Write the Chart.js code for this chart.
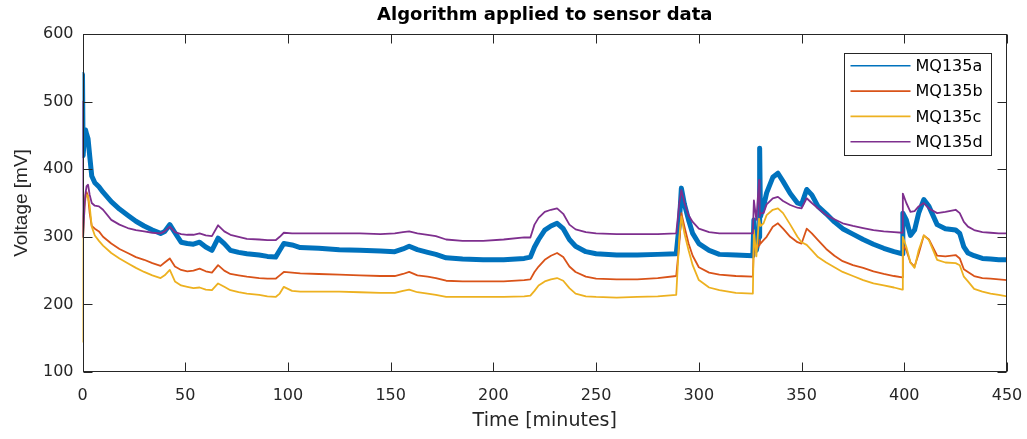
<!DOCTYPE html>
<html>
<head>
<meta charset="utf-8">
<script src="https://cdn.jsdelivr.net/npm/chart.js@4.4.1/dist/chart.umd.min.js"></script>
<style>
  html, body { margin: 0; padding: 0; background: #fff; }
  canvas { display: block; }
</style>
</head>
<body>
<canvas id="c" width="1027" height="439"></canvas>
<script>
// Sample times (minutes)
const timeMin = [0, 0.3, 1, 1.5, 2, 2.7, 3.5, 4.5, 6, 8, 10, 14, 18, 22, 26, 30, 34, 38, 40, 42.5,
  45, 48, 51, 54, 57, 60, 63, 66, 69, 72, 76, 80, 86, 90, 94, 96, 98, 102, 106, 115,
  125, 135, 145, 152, 156, 159, 163, 168, 172, 177, 185, 195, 205, 215, 218, 220, 222, 225, 228, 231,
  234, 237, 240, 245, 250, 260, 270, 280, 289, 290.5, 291.5, 293, 295, 297, 300, 305, 310, 318, 326.3, 326.8,
  328, 329.3, 329.6, 330, 331.5, 333, 336, 338.5, 341, 344.5, 348, 350, 352.5, 355, 358, 362, 366, 370, 375, 380,
  385, 390, 395, 399, 399.3, 401, 403, 405, 407, 409.5, 412, 416, 420, 425, 427, 429, 431, 434, 438, 442,
  446, 450];

// Sensor voltages (mV)
const mq135a = [540, 420, 450, 458, 452, 445, 420, 390, 380, 374, 366, 352, 341, 332, 323, 316, 310, 305, 308, 318,
  306, 292, 290, 289, 292, 285, 280, 298, 290, 280, 277, 275, 273, 271, 270, 280, 290, 288, 284, 283,
  281, 280, 279, 278, 282, 286, 281, 277, 274, 269, 267, 266, 266, 268, 270, 285, 296, 310, 316, 320,
  312, 296, 286, 278, 275, 273, 273, 274, 275, 320, 372, 348, 325, 305, 290, 280, 274, 273, 272, 325,
  280, 300, 431, 330, 345, 365, 388, 394, 382, 364, 350, 348, 370, 362, 345, 334, 322, 312, 304, 296,
  289, 283, 278, 275, 335, 325, 302, 310, 335, 355, 345, 318, 312, 310, 305, 285, 276, 272, 268, 267,
  266, 266];

const mq135b = [300, 330, 350, 362, 366, 360, 335, 316, 312, 308, 300, 290, 282, 276, 270, 266, 261, 257, 262, 268,
  256, 251, 249, 250, 253, 249, 247, 258, 250, 245, 243, 241, 239, 238, 238, 243, 248, 247, 246, 245,
  244, 243, 242, 242, 245, 248, 243, 241, 239, 235, 234, 234, 234, 236, 237, 248, 256, 266, 272, 276,
  270, 256, 248, 241, 238, 237, 237, 239, 242, 290, 335, 315, 290, 272, 255, 247, 244, 242, 241, 290,
  281, 288, 295, 290, 295, 300, 315, 320, 312, 300, 292, 290, 312, 305, 295, 282, 272, 264, 258, 254,
  249, 245, 242, 240, 288, 280, 262, 256, 275, 302, 296, 272, 271, 273, 268, 252, 248, 242, 239, 238,
  237, 236];

const mq135c = [145, 300, 345, 358, 362, 360, 345, 315, 302, 294, 287, 276, 268, 261, 254, 248, 243, 239, 243, 251,
  234, 228, 226, 224, 225, 222, 221, 231, 226, 221, 218, 216, 214, 212, 211, 216, 226, 220, 219, 219,
  219, 218, 217, 217, 220, 222, 218, 216, 214, 211, 211, 211, 211, 212, 213, 220, 228, 234, 237, 239,
  235, 224, 216, 212, 211, 210, 211, 212, 214, 300, 330, 305, 280, 258, 236, 225, 221, 217, 216, 310,
  271, 327, 327, 316, 320, 332, 340, 342, 335, 318, 300, 292, 288, 280, 270, 262, 255, 248, 242, 236,
  231, 228, 225, 222, 300, 285, 262, 254, 280, 302, 295, 266, 262, 261, 258, 241, 234, 223, 219, 216,
  214, 212];

const mq135d = [500, 300, 345, 365, 375, 377, 362, 350, 346, 345, 340, 325, 318, 313, 310, 308, 306, 305, 308, 315,
  307, 304, 303, 303, 305, 302, 301, 317, 308, 303, 300, 297, 296, 295, 295, 300, 306, 305, 305, 305,
  305, 305, 304, 305, 307, 308, 305, 303, 301, 296, 294, 294, 296, 299, 299, 318, 328, 337, 340, 342,
  334, 318, 311, 307, 305, 304, 304, 304, 305, 350, 369, 350, 332, 322, 312, 307, 305, 305, 305, 354,
  325, 384, 330, 335, 335, 348, 357, 359, 353, 347, 343, 342, 357, 350, 342, 332, 326, 320, 316, 313,
  310, 308, 307, 306, 364, 350, 337, 338, 345, 350, 342, 335, 337, 340, 335, 322, 315, 310, 307, 306,
  305, 305];

const seriesNames = ['MQ135a', 'MQ135b', 'MQ135c', 'MQ135d'];
const seriesValues = [mq135a, mq135b, mq135c, mq135d];
const seriesColors = ['#0072BD', '#D95319', '#EDB120', '#7E2F8E'];
const seriesWidths = [5, 1.8, 1.8, 1.8];

const xTicks = [0, 50, 100, 150, 200, 250, 300, 350, 400, 450];
const yTicks = [100, 200, 300, 400, 500, 600];

const axisColor = '#262626';
const tickFont = { family: 'DejaVu Sans', size: 16 };

// Axes box with inward tick marks on all four sides, plus the boxed legend
const boxedAxes = {
  id: 'boxedAxes',
  afterDatasetsDraw(chart) {
    const { ctx, chartArea: a, scales: { x, y } } = chart;
    ctx.save();
    ctx.strokeStyle = axisColor;
    ctx.lineWidth = 1;
    const L = Math.round(a.left) + 0.5, R = Math.round(a.right) - 0.5;
    const T = Math.round(a.top) + 0.5, B = Math.round(a.bottom) - 0.5;
    ctx.strokeRect(L, T, R - L, B - T);
    const len = 9;
    ctx.beginPath();
    xTicks.forEach(v => {
      const px = Math.round(x.getPixelForValue(v)) + 0.5;
      ctx.moveTo(px, B); ctx.lineTo(px, B - len);
      ctx.moveTo(px, T); ctx.lineTo(px, T + len);
    });
    yTicks.forEach(v => {
      const py = Math.round(y.getPixelForValue(v)) + 0.5;
      ctx.moveTo(L, py); ctx.lineTo(L + len, py);
      ctx.moveTo(R, py); ctx.lineTo(R - len, py);
    });
    ctx.stroke();

    // legend
    const boxW = 147, boxH = 102;
    const bx = Math.round(a.right - 16 - boxW) + 0.5;
    const by = Math.round(a.top + 19) + 0.5;
    ctx.fillStyle = '#fff';
    ctx.fillRect(bx, by, boxW, boxH);
    ctx.strokeStyle = axisColor;
    ctx.strokeRect(bx, by, boxW, boxH);
    ctx.font = '16px "DejaVu Sans"';
    ctx.textBaseline = 'middle';
    ctx.textAlign = 'left';
    chart.data.datasets.forEach((ds, i) => {
      const ry = by + 12.3 + i * 25.3;
      ctx.strokeStyle = ds.borderColor;
      ctx.lineWidth = 1.6;
      ctx.beginPath();
      ctx.moveTo(bx + 6, ry); ctx.lineTo(bx + 66, ry);
      ctx.stroke();
      ctx.fillStyle = '#000';
      ctx.fillText(ds.label, bx + 71, ry + 1);
    });
    ctx.restore();
  }
};

const datasets = seriesNames.map((name, k) => ({
  label: name,
  data: timeMin.map((t, i) => ({ x: t, y: seriesValues[k][i] })),
  borderColor: seriesColors[k],
  backgroundColor: seriesColors[k],
  borderWidth: seriesWidths[k],
  borderJoinStyle: 'round',
  borderCapStyle: 'round',
  pointRadius: 0,
  tension: 0,
  fill: false,
  clip: 0,
  order: seriesNames.length - k
}));

new Chart(document.getElementById('c'), {
  type: 'line',
  data: { datasets },
  plugins: [boxedAxes],
  options: {
    responsive: false,
    animation: false,
    devicePixelRatio: 1,
    layout: { padding: { left: 0, right: 20, top: 0, bottom: 0 } },
    plugins: {
      legend: { display: false },
      tooltip: { enabled: false },
      title: {
        display: true,
        fullSize: false,
        text: 'Algorithm applied to sensor data',
        color: '#000',
        font: { family: 'DejaVu Sans', size: 18, weight: 'bold' },
        padding: { top: 5, bottom: 7.4 }
      }
    },
    scales: {
      x: {
        type: 'linear',
        min: 0, max: 450,
        afterBuildTicks: s => { s.ticks = xTicks.map(v => ({ value: v })); },
        afterFit: s => { s.height = 67; s.paddingLeft = 0; s.paddingRight = 0; },
        grid: { display: false, drawTicks: false },
        border: { display: false },
        ticks: { color: axisColor, font: tickFont, padding: 14, maxRotation: 0, autoSkip: false },
        title: {
          display: true, text: 'Time [minutes]', color: axisColor,
          font: { family: 'DejaVu Sans', size: 19 },
          padding: { top: 0, bottom: 7 }
        }
      },
      y: {
        type: 'linear',
        min: 100, max: 600,
        afterBuildTicks: s => { s.ticks = yTicks.map(v => ({ value: v })); },
        afterFit: s => { s.width = 82.5; },
        grid: { display: false, drawTicks: false },
        border: { display: false },
        ticks: { color: axisColor, font: tickFont, padding: 9, autoSkip: false },
        title: {
          display: true, text: 'Voltage [mV]', color: axisColor,
          font: { family: 'Liberation Sans', size: 19 },
          padding: { top: 10.6, bottom: 0 }
        }
      }
    }
  }
});
</script>
</body>
</html>
